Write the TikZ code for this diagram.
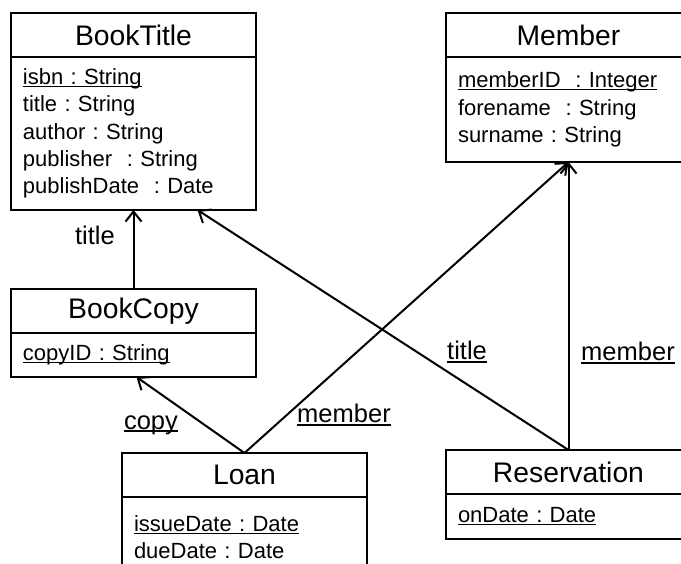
\documentclass[tikz,border=0pt]{standalone}
\usepackage{fontspec}
\setmainfont{Liberation Sans}
\usetikzlibrary{positioning,arrows.meta}
\frenchspacing

\newcommand{\namefont}{\fontsize{28.3}{34}\selectfont}
\newcommand{\attrfont}{\fontsize{22}{27.3}\selectfont}
\newcommand{\rolefont}{\fontsize{25.5}{30}\selectfont}
\newcommand{\keyline}[1]{\leavevmode\setbox0=\hbox{#1}\rlap{\rule[-2.6pt]{\wd0}{1.3pt}}\box0}

\tikzset{
  box/.style={draw, line width=2pt, outer sep=0pt, minimum width=245pt},
  classname/.style={box, minimum height=44pt, font=\namefont},
  attrs/.style={box, text width=221pt, inner xsep=12pt, inner ysep=0pt, align=left, font=\attrfont},
  assoc/.style={line width=2pt, -{Straight Barb[length=10pt,width=16pt]}},
  role/.style={anchor=base, inner sep=0pt, font=\rolefont},
}

\begin{document}
\begin{tikzpicture}[x=1pt, y=-1pt]
  \useasboundingbox (0,0) rectangle (681,564);
  \clip (0,0) rectangle (681,564);

  % Clases
  \foreach \id/\x/\y/\nombre in {title/11/13/BookTitle, member/446/13/Member,
      copy/11/289/BookCopy, loan/122/453/Loan, resv/446/450/Reservation}
    \node[classname, anchor=north west] (\id) at (\x,\y) {\nombre};

  % Atributos
  \node[attrs, below=0pt of title, minimum height=153pt] (titleattr)
    {\keyline{isbn : String}\\ title : String\\ author : String\\
     publisher~ : String\\ publishDate~ : Date};
  \node[attrs, below=0pt of member, minimum height=105pt] (memberattr)
    {\keyline{memberID~ : Integer}\\ forename~ : String\\ surname : String};
  \node[attrs, below=0pt of copy, minimum height=44pt] (copyattr)
    {\keyline{copyID : String}};
  \node[attrs, below=0pt of loan, minimum height=80pt] (loanattr)
    {\keyline{issueDate : Date}\\ dueDate : Date};
  \node[attrs, below=0pt of resv, minimum height=45pt] (resvattr)
    {\keyline{onDate : Date}};

  % Asociaciones
  \draw[assoc] (copy.north) -- (titleattr.south);
  \draw[assoc] (loan.north) -- ([xshift=3pt]copyattr.south);
  \draw[assoc] (loan.north) -- (memberattr.south);
  \draw[assoc] (resv.north) -- (memberattr.south);
  \draw[assoc] (resv.north) -- ([xshift=64pt]titleattr.south);

  % Roles
  \node[role] (r1) at (95,245) {title};
  \node[role] (r2) at (151,429) {\keyline{copy}};
  \node[role] (r3) at (344,423) {\keyline{member}};
  \node[role] (r4) at (467,360) {\keyline{title}};
  \node[role] (r5) at (628,361) {\keyline{member}};
\end{tikzpicture}
\end{document}
